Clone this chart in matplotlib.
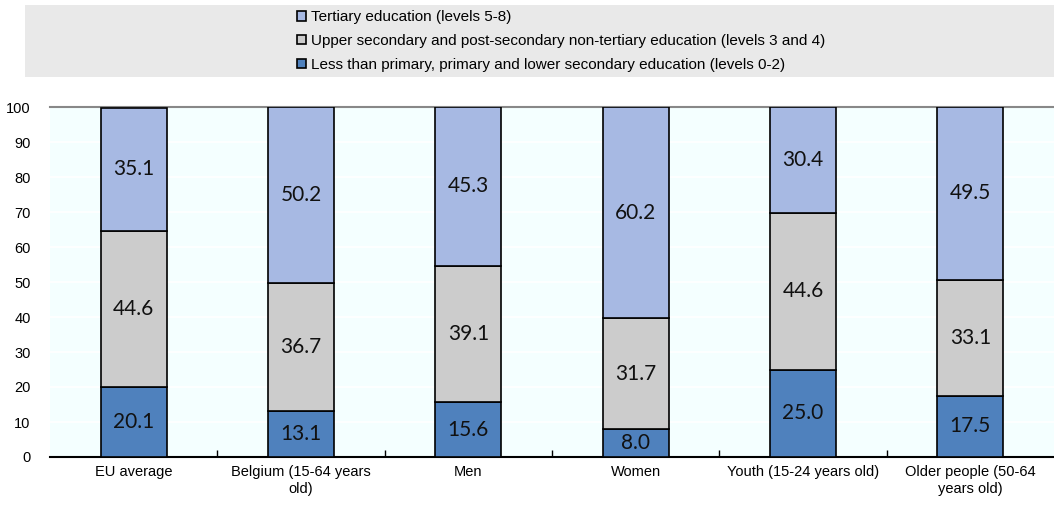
import matplotlib
matplotlib.use('Agg')
import matplotlib.pyplot as plt
from matplotlib.patches import Rectangle, Patch
from matplotlib import font_manager
import numpy as np

# data
categories = ['EU average', 'Belgium (15-64 years\nold)', 'Men', 'Women',
              'Youth (15-24 years old)', 'Older people (50-64\nyears old)']
low_edu = [20.1, 13.1, 15.6, 8.0, 25.0, 17.5]
mid_edu = [44.6, 36.7, 39.1, 31.7, 44.6, 33.1]
high_edu = [35.1, 50.2, 45.3, 60.2, 30.4, 49.5]
series_labels = ['Less than primary, primary and lower secondary education (levels 0-2)',
                 'Upper secondary and post-secondary non-tertiary education (levels 3 and 4)',
                 'Tertiary education (levels 5-8)']
y_ticks = list(range(0, 101, 10))

col_low = '#4F81BD'
col_mid = '#CCCCCC'
col_high = '#A7B9E3'

names = {f.name for f in font_manager.fontManager.ttflist}
narrow = 'Liberation Sans Narrow' if 'Liberation Sans Narrow' in names else 'Liberation Sans'
leg_size = 13 if narrow == 'Liberation Sans Narrow' else 11
plt.rcParams['font.family'] = ['Liberation Sans', 'DejaVu Sans']

fig = plt.figure(figsize=(10.54, 5.05), dpi=100)
ax = fig.add_axes([50 / 1054, 1 - 457 / 505, 1 - 50 / 1054, 350 / 505])
ax.set_facecolor('#F4FFFF')

x = np.arange(len(categories))
w = 0.395
b1 = ax.bar(x, low_edu, w, color=col_low, edgecolor='black', linewidth=1.2, zorder=3)
b2 = ax.bar(x, mid_edu, w, bottom=low_edu, color=col_mid, edgecolor='black', linewidth=1.2, zorder=3)
bottom3 = [a + b for a, b in zip(low_edu, mid_edu)]
b3 = ax.bar(x, high_edu, w, bottom=bottom3, color=col_high, edgecolor='black', linewidth=1.2, zorder=3)

for bars, vals in [(b1, low_edu), (b2, mid_edu), (b3, high_edu)]:
    ax.bar_label(bars, labels=[f'{v:.1f}' for v in vals], label_type='center',
                 fontsize=15, family='Lato', color='#111111', zorder=4)

ax.set_xlim(-0.5, len(categories) - 0.5)
ax.set_ylim(0, 100)
ax.set_yticks(y_ticks)
ax.tick_params(axis='y', length=0, pad=14, labelsize=10.5)
ax.set_xticks(x)
ax.set_xticklabels(categories, fontsize=10.5, linespacing=1.25)
ax.tick_params(axis='x', length=0, pad=6)
ax.set_xticks(np.arange(0.5, len(categories) - 1, 1), minor=True)
ax.tick_params(axis='x', which='minor', direction='in', length=5, width=1, color='black')
ax.grid(axis='y', color='white', linewidth=1.2, zorder=0)
for s in ['left', 'right']:
    ax.spines[s].set_visible(False)
ax.spines['top'].set_color('#888888')
ax.spines['top'].set_linewidth(1.5)
ax.spines['bottom'].set_color('black')
ax.spines['bottom'].set_linewidth(1.5)

# legend band
fig.patches.append(Rectangle((25 / 1054, 1 - 77 / 505), 1 - 25 / 1054, 72 / 505,
                             transform=fig.transFigure, facecolor='#E9E9E9', edgecolor='none', zorder=0))
handles = [Patch(facecolor=col_high, edgecolor='black', linewidth=1.2),
           Patch(facecolor=col_mid, edgecolor='black', linewidth=1.2),
           Patch(facecolor=col_low, edgecolor='black', linewidth=1.2)]
fig.legend(handles, series_labels[::-1], loc='upper left', bbox_to_anchor=(294 / 1054, 1 - 7 / 505),
           frameon=False, handlelength=0.6, handleheight=0.6, handletextpad=0.3,
           labelspacing=0.65, prop={'family': narrow, 'size': leg_size}, borderaxespad=0, borderpad=0.2)

fig.savefig('out.png', dpi=100)
